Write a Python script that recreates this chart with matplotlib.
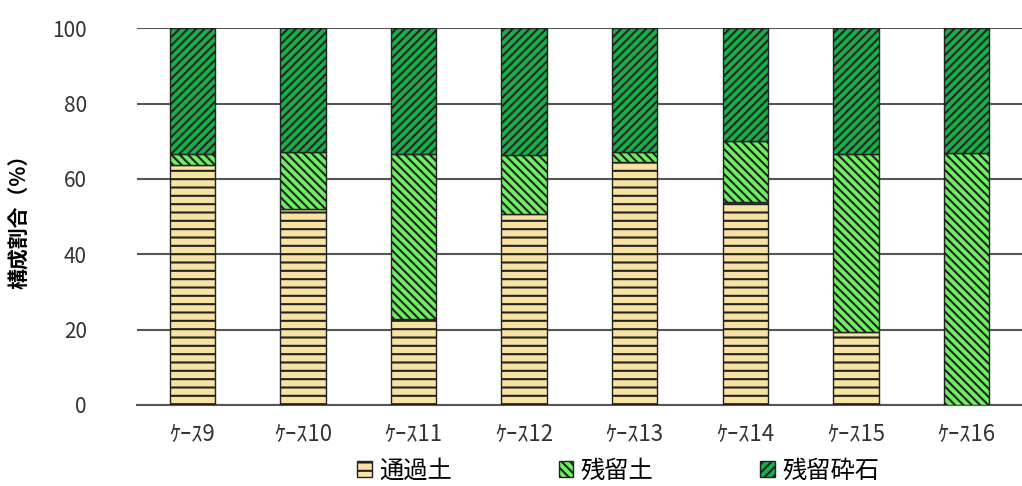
import matplotlib.pyplot as plt
import numpy as np

plt.rcParams['font.family'] = ['Noto Sans CJK JP', 'DejaVu Sans']
plt.rcParams['hatch.linewidth'] = 1.5

cases = ['ｹｰｽ9', 'ｹｰｽ10', 'ｹｰｽ11', 'ｹｰｽ12', 'ｹｰｽ13', 'ｹｰｽ14', 'ｹｰｽ15', 'ｹｰｽ16']
passing_soil = [63.8, 52.0, 22.7, 50.7, 64.5, 53.9, 19.3, 0.0]     # 通過土
residual_soil = [2.9, 15.1, 44.0, 15.5, 2.6, 16.1, 47.2, 66.8]    # 残留土
residual_gravel = [33.3, 32.9, 33.3, 33.8, 32.9, 30.0, 33.5, 33.2]  # 残留砕石

x = np.arange(len(cases))
width = 0.41

fig = plt.figure(figsize=(10.22, 4.86), dpi=100)
ax = fig.add_axes([0.134, 0.167, 0.866, 0.775])

edge = '#222222'
b1 = ax.bar(x, passing_soil, width, color='#F9E3A2', edgecolor=edge, hatch='--', linewidth=1.0, zorder=3)
b2 = ax.bar(x, residual_soil, width, bottom=passing_soil, color='#6CF060',
            edgecolor=edge, hatch='\\\\\\\\', linewidth=1.0, zorder=3)
bottom3 = np.array(passing_soil) + np.array(residual_soil)
b3 = ax.bar(x, residual_gravel, width, bottom=bottom3, color='#16B04A',
            edgecolor=edge, hatch='////', linewidth=1.0, zorder=3)

ax.set_xlim(-0.5, 7.5)
ax.set_ylim(0, 100)
ax.set_yticks(range(0, 101, 20))
ax.yaxis.grid(True, color='#555555', linewidth=1.5, zorder=0)
ax.tick_params(axis='y', length=0, pad=36, labelsize=15, labelcolor='#333333')
ax.tick_params(axis='x', length=0, pad=13, labelsize=16, labelcolor='#333333')
ax.set_xticks(x)
ax.set_xticklabels(cases)
for s in ('left', 'right', 'top'):
    ax.spines[s].set_visible(False)
ax.spines['bottom'].set_color('#555555')
ax.spines['bottom'].set_linewidth(1.5)
ax.set_ylabel('構成割合（%）', fontsize=15, fontweight='bold', labelpad=16)

leg = fig.legend([b1, b2, b3], ['通過土', '残留土', '残留砕石'], loc='lower center',
                 bbox_to_anchor=(0.605, -0.04), ncol=3, frameon=False, fontsize=17.5,
                 handlelength=0.6, handleheight=0.6, handletextpad=0.3, columnspacing=4.4)

fig.savefig('out.png', dpi=100)
